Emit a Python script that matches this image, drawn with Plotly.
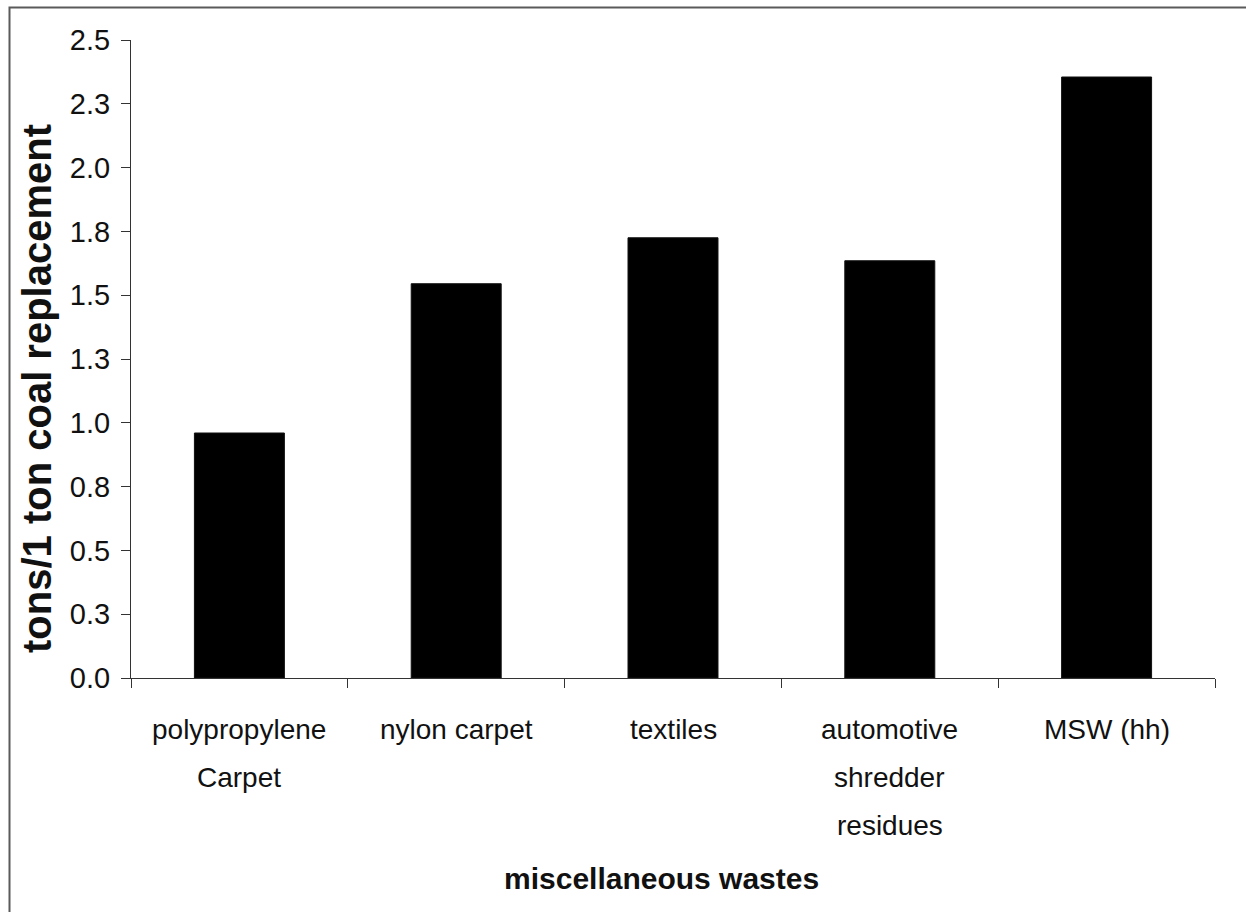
import plotly.graph_objects as go

# Miscellaneous wastes needed to replace one ton of coal
categories = ["polypropylene Carpet", "nylon carpet", "textiles",
              "automotive shredder residues", "MSW (hh)"]
label_lines = [["polypropylene", "Carpet"], ["nylon carpet"], ["textiles"],
               ["automotive", "shredder", "residues"], ["MSW (hh)"]]
values = [0.96, 1.545, 1.725, 1.635, 2.355]

tick_vals = [0, 0.25, 0.5, 0.75, 1.0, 1.25, 1.5, 1.75, 2.0, 2.25, 2.5]
tick_text = ["0.0", "0.3", "0.5", "0.8", "1.0", "1.3", "1.5", "1.8", "2.0", "2.3", "2.5"]

W, H = 1246, 912
ML, MR, MT, MB = 131, 31, 40, 234
PW, PH = W - ML - MR, H - MT - MB

FONT = "Liberation Sans, Arial, sans-serif"

fig = go.Figure(go.Bar(
    x=categories, y=values,
    marker=dict(color="#000000", line=dict(color="#111111", width=1)),
    showlegend=False, hoverinfo="x+y",
))

# multi-line category labels with wide line spacing
annotations = []
FIRST_LINE = 51
LINE_STEP = 48
for cat, lines in zip(categories, label_lines):
    for i, line in enumerate(lines):
        annotations.append(dict(
            x=cat, y=0, xref="x", yref="y", text=line, showarrow=False,
            xanchor="center", yanchor="middle",
            yshift=-(FIRST_LINE + i * LINE_STEP),
            font=dict(family=FONT, size=28, color="#111111"),
        ))

# axis titles
annotations.append(dict(
    x=(661 - ML) / PW, y=-(878 - MT - PH) / PH, xref="paper", yref="paper",
    text="<b>miscellaneous wastes</b>", showarrow=False,
    xanchor="center", yanchor="middle",
    font=dict(family=FONT, size=30, color="#111111"),
))
annotations.append(dict(
    x=(37 - ML) / PW, y=(MT + PH - 389) / PH, xref="paper", yref="paper",
    text="<b>tons/1 ton coal replacement</b>", showarrow=False, textangle=-90,
    xanchor="center", yanchor="middle",
    font=dict(family=FONT, size=40, color="#111111"),
))

# outer chart frame (left and top edges visible, running off the page)
shapes = [dict(
    type="rect", xref="paper", yref="paper",
    x0=(9.5 - ML) / PW, x1=(W + 20 - ML) / PW,
    y0=(MT + PH - (H + 20)) / PH, y1=(MT + PH - 7.5) / PH,
    line=dict(color="#5a5a5a", width=2), fillcolor="rgba(0,0,0,0)", layer="below",
)]

fig.update_layout(
    width=W, height=H,
    margin=dict(l=ML, r=MR, t=MT, b=MB, pad=0),
    paper_bgcolor="white", plot_bgcolor="white",
    bargap=0.585,
    annotations=annotations,
    shapes=shapes,
    font=dict(family=FONT, color="#111111"),
)

fig.update_xaxes(
    type="category", showticklabels=False,
    showline=True, linecolor="#333333", linewidth=1,
    ticks="outside", tickson="boundaries", ticklen=9, tickcolor="#333333", tickwidth=1,
    showgrid=False, zeroline=False, mirror=False,
)
fig.update_yaxes(
    range=[0, 2.5], tickmode="array", tickvals=tick_vals, ticktext=tick_text,
    showline=True, linecolor="#333333", linewidth=1,
    ticks="outside", ticklen=9, tickcolor="#333333", tickwidth=1,
    ticklabelstandoff=5,
    tickfont=dict(family=FONT, size=29, color="#111111"),
    showgrid=False, zeroline=False,
)

fig.write_html("out.html")
